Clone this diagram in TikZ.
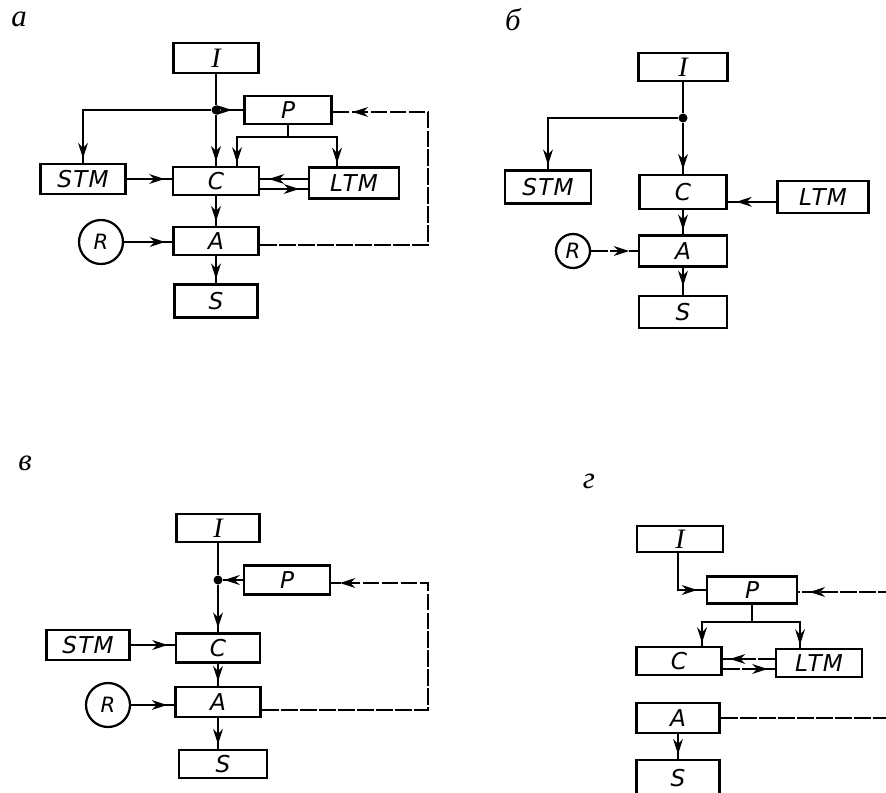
\documentclass[tikz,border=0pt]{standalone}
\usepackage{fontspec}
\setmainfont{Liberation Serif}
\newfontfamily\boxfont[LetterSpace=5]{DejaVu Sans}
\newfontfamily\ifont{Liberation Serif}
\newfontfamily\cyrfont{Liberation Serif}
\usetikzlibrary{arrows.meta,decorations.markings}
\newcommand\pxu{0.025cm}
\tikzset{
  bx/.style 2 args={draw, line width=1.9pt, minimum width=#1*\pxu, minimum height=#2*\pxu,
    inner sep=0pt, font=\boxfont\itshape\fontsize{16.5}{18}\selectfont},
  rc/.style={draw, circle, line width=1.6pt, minimum size=#1*\pxu, inner sep=0pt,
    font=\boxfont\itshape\fontsize{15}{16}\selectfont},
  ln/.style={line width=1.3pt},
  fb/.style={line width=1.1pt, dash pattern=on 12pt off 1.5pt},
  ar/.style={postaction={decorate}, decoration={markings,
    mark=at position -#1 with {\arrow{Stealth[length=11pt,width=7pt]}}}},
  ar/.default=3pt,
  jdot/.style={circle, fill, inner sep=0pt, minimum size=9*\pxu},
  lbl/.style={font=\cyrfont\itshape\fontsize{22}{24}\selectfont, inner sep=0pt},
}
\newcommand\Iletter{{\ifont\itshape\fontsize{20}{21}\selectfont I}}
\begin{document}
\begin{tikzpicture}[x=0.025cm, y=-0.025cm]
\clip (0,0) rectangle (886,793);
\fill[white] (0,0) rectangle (886,793);

% ---------------- a ----------------
\node[lbl] (aL) at (19,19) {а};
\node[bx={85}{30}] (aI) at (216,58) {\Iletter};
\node[jdot] (aJ) at (216,110) {};
\node[bx={87}{28}] (aP) at (288,110) {P};
\node[bx={85}{30}] (aSTM) at (83,179) {STM};
\node[bx={86}{28}] (aC) at (216,181) {C};
\node[bx={90}{31}] (aLTM) at (354,183) {LTM};
\node[bx={85}{28}] (aA) at (216,241) {A};
\node[rc={44}] (aR) at (101,242) {R};
\node[bx={83}{33}] (aS) at (216,301) {S};
\coordinate (aPb) at (288,137);
\coordinate (aCin) at (237,167);
\coordinate (aLin) at (337,167.5);
\coordinate (aF) at (428,245);

\draw[ln] (aI) -- (aJ);
\draw[ln,ar] (aJ) -- (aC);
\draw[ln,ar=8pt] (aJ) -- (aP);
\draw[ln,ar] (aJ) -| (aSTM);
\draw[ln] (aP) -- (aPb);
\draw[ln,ar] (aPb) -| (aCin);
\draw[ln,ar] (aPb) -| (aLin);
\draw[ln,ar=5pt] (aSTM.east) -- (aSTM.east -| aC.west);
\draw[ln,ar=6pt] ([yshift=0.1cm]aLTM.west) -- ([yshift=0.1cm]aLTM.west -| aC.east);
\draw[ln,ar=6pt] ([yshift=-0.2cm]aC.east) -- ([yshift=-0.2cm]aC.east -| aLTM.west);
\draw[ln,ar] (aC) -- (aA);
\draw[ln,ar=5pt] (aR.east) -- (aR.east -| aA.west);
\draw[ln,ar] (aA) -- (aS);
\draw[fb,ar=14pt] ([yshift=-0.1cm]aA.east) -- ([yshift=-0.1cm]aA.east -| aF) |- ([yshift=-0.05cm]aP.east);

% ---------------- b ----------------
\node[lbl] (bL) at (513,20) {б};
\node[bx={89}{28}] (bI) at (683,67) {\Iletter};
\node[jdot] (bJ) at (683,118) {};
\node[bx={86}{33}] (bSTM) at (548,187) {STM};
\node[bx={87}{34}] (bC) at (683,192) {C};
\node[bx={91}{32}] (bLTM) at (823,197) {LTM};
\node[bx={88}{31}] (bA) at (683,251) {A};
\node[rc={34}] (bR) at (573,251) {R};
\node[bx={88}{32}] (bS) at (683,312) {S};

\draw[ln] (bI) -- (bJ);
\draw[ln,ar] (bJ) -- (bC);
\draw[ln,ar] (bJ) -| (bSTM);
\draw[ln,ar=6pt] ([yshift=-0.12cm]bLTM.west) -- ([yshift=-0.12cm]bLTM.west -| bC.east);
\draw[ln,ar] (bC) -- (bA);
\draw[fb,ar=6pt] (bR.east) -- (bR.east -| bA.west);
\draw[ln,ar=6pt] (bA) -- (bS);

% ---------------- v ----------------
\node[lbl] (cL) at (25,463) {в};
\node[bx={83}{28}] (cI) at (218,528) {\Iletter};
\node[jdot] (cJ) at (218,580) {};
\node[bx={86}{29}] (cP) at (287,580) {P};
\node[bx={84}{29}] (cC) at (218,648) {C};
\node[bx={83}{30}] (cSTM) at (88,645) {STM};
\node[bx={85}{30}] (cA) at (218,702) {A};
\node[rc={44}] (cR) at (108,705) {R};
\node[bx={88}{28}] (cS) at (223,764) {S};
\coordinate (cF) at (428,710);

\draw[ln] (cI) -- (cJ);
\draw[ln,ar=1pt] (cP) -- (cJ);
\draw[ln,ar] (cJ) -- (cC);
\draw[ln,ar=5pt] (cSTM.east) -- (cSTM.east -| cC.west);
\draw[ln,ar] (cC) -- (cA);
\draw[ln,ar=5pt] (cR.east) -- (cR.east -| cA.west);
\draw[ln,ar] (cA.south) -- (cA.south |- cS.north);
\draw[fb,ar=6pt] ([yshift=-0.2cm]cA.east) -- ([yshift=-0.2cm]cA.east -| cF) |- ([yshift=-0.075cm]cP.east);

% ---------------- g ----------------
\node[lbl] (dL) at (589,481) {г};
\node[bx={86}{26}] (dI) at (680,539) {\Iletter};
\node[bx={90}{27}] (dP) at (752,590) {P};
\node[bx={85}{28}] (dC) at (679,661) {C};
\node[bx={86}{28}] (dLTM) at (819,663) {LTM};
\node[bx={83}{30}] (dA) at (678,718) {A};
\node[bx={83}{36}] (dS) at (678,778) {S};
\coordinate (dPin) at (895,592);
\coordinate (dPb) at (752,622);
\coordinate (dCin) at (702,647);
\coordinate (dLin) at (800,649);
\coordinate (dAout) at (895,718);
\coordinate (dIx) at (678,552);

\draw[ln,ar=6pt] (dIx) |- (dP.west);
\draw[fb,ar=8pt] (dPin) -- (dPin -| dP.east);
\draw[ln] (dP) -- (dPb);
\draw[ln,ar] (dPb) -| (dCin);
\draw[ln,ar] (dPb) -| (dLin);
\draw[fb,ar=5pt] ([yshift=0.1cm]dLTM.west) -- ([yshift=0.1cm]dLTM.west -| dC.east);
\draw[fb,ar=5pt] ([yshift=-0.2cm]dC.east) -- ([yshift=-0.2cm]dC.east -| dLTM.west);
\draw[fb] (dA) -- (dAout);
\draw[ln,ar] (dA) -- (dS);
\end{tikzpicture}
\end{document}
